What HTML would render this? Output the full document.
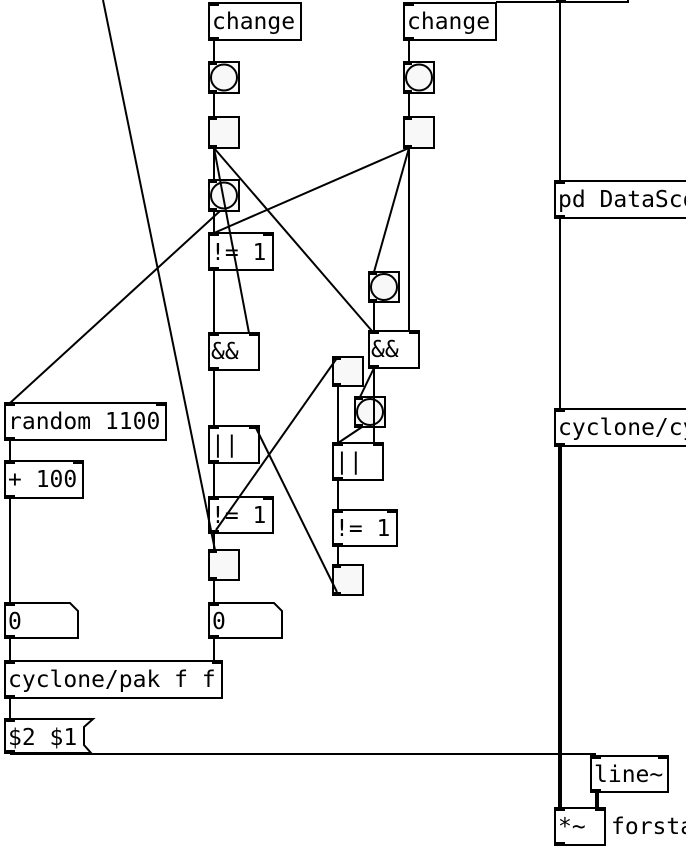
<!DOCTYPE html>
<html><head><style>
body{margin:0;background:#fff;width:686px;height:848px;overflow:hidden}
text{font-family:"DejaVu Sans Mono","Liberation Mono",monospace;font-size:23px;fill:#000}
</style></head><body>
<svg width="686" height="848" xmlns="http://www.w3.org/2000/svg">
<g stroke="#000" stroke-width="4">
<line x1="560" y1="446" x2="560" y2="808"/>
<line x1="597" y1="792" x2="597" y2="808"/>
</g>
<g stroke="#000" stroke-width="2" fill="#fff">
<rect x="209" y="3" width="92" height="37"/>
<rect x="404" y="3" width="92" height="37"/>
<rect x="209" y="233" width="64" height="37"/>
<rect x="209" y="333" width="50" height="37"/>
<rect x="369" y="331" width="50" height="37"/>
<rect x="209" y="426" width="50" height="37"/>
<rect x="333" y="443" width="50" height="37"/>
<rect x="209" y="497" width="64" height="36"/>
<rect x="333" y="510" width="64" height="36"/>
<rect x="5" y="403" width="161" height="37"/>
<rect x="5" y="461" width="78" height="37"/>
<rect x="5" y="661" width="217" height="37"/>
<rect x="555" y="181" width="140" height="37"/>
<rect x="555" y="409" width="140" height="37"/>
<rect x="591" y="756" width="77" height="36"/>
<rect x="555" y="808" width="50" height="37"/>
<path d="M5 603H70L78 611V638H5Z"/>
<path d="M209 603H274L282 611V638H209Z"/>
<path d="M5 719H93L84 727V745L91 753H5Z"/>
</g>
<g stroke="#000" stroke-width="2" fill="#f8f8f8">
<rect x="209" y="62" width="30" height="31"/>
<rect x="404" y="62" width="30" height="31"/>
<rect x="209" y="117" width="30" height="31"/>
<rect x="404" y="117" width="30" height="31"/>
<rect x="209" y="180" width="30" height="31"/>
<rect x="369" y="272" width="30" height="30"/>
<rect x="333" y="357" width="30" height="29"/>
<rect x="355" y="397" width="30" height="30"/>
<rect x="209" y="550" width="30" height="30"/>
<rect x="333" y="565" width="30" height="30"/>
<circle cx="224" cy="77.5" r="13"/>
<circle cx="419" cy="77.5" r="13"/>
<circle cx="224" cy="195.5" r="13"/>
<circle cx="384" cy="287" r="13"/>
<circle cx="370" cy="412" r="13"/>
</g>
<g stroke="#000" stroke-width="2" fill="none">
<line x1="103" y1="0" x2="215" y2="550"/>
<line x1="214" y1="40" x2="214" y2="62"/>
<line x1="214" y1="93" x2="214" y2="117"/>
<line x1="214" y1="148" x2="214" y2="180"/>
<line x1="214" y1="148" x2="249" y2="333"/>
<line x1="214" y1="148" x2="372" y2="331"/>
<line x1="409" y1="40" x2="409" y2="62"/>
<line x1="409" y1="93" x2="409" y2="117"/>
<line x1="409" y1="148" x2="214" y2="233"/>
<line x1="409" y1="148" x2="374" y2="272"/>
<line x1="409" y1="148" x2="409" y2="331"/>
<line x1="220" y1="211" x2="10" y2="403"/>
<line x1="214" y1="211" x2="214" y2="233"/>
<line x1="214" y1="270" x2="214" y2="333"/>
<line x1="214" y1="370" x2="214" y2="426"/>
<line x1="214" y1="463" x2="214" y2="497"/>
<line x1="214" y1="533" x2="214" y2="550"/>
<line x1="214" y1="580" x2="214" y2="603"/>
<line x1="214" y1="638" x2="214" y2="661"/>
<line x1="374" y1="302" x2="374" y2="331"/>
<line x1="374" y1="368" x2="360" y2="397"/>
<line x1="374" y1="368" x2="374" y2="443"/>
<line x1="338" y1="386" x2="338" y2="443"/>
<line x1="362" y1="427" x2="338" y2="443"/>
<line x1="216" y1="530" x2="337" y2="358"/>
<line x1="255" y1="426" x2="337" y2="592"/>
<line x1="338" y1="480" x2="338" y2="510"/>
<line x1="338" y1="546" x2="338" y2="565"/>
<line x1="10" y1="440" x2="10" y2="461"/>
<line x1="10" y1="498" x2="10" y2="603"/>
<line x1="10" y1="638" x2="10" y2="661"/>
<line x1="10" y1="698" x2="10" y2="719"/>
<line x1="10" y1="754" x2="596" y2="754"/>
<line x1="560" y1="3" x2="560" y2="181"/>
<line x1="560" y1="218" x2="560" y2="409"/>
<line x1="496" y1="2" x2="628" y2="2"/>
<line x1="628" y1="0" x2="628" y2="3"/>
</g>
<g fill="#000">
<rect x="209" y="3" width="10" height="3"/><rect x="209" y="37" width="10" height="3"/>
<rect x="404" y="3" width="10" height="3"/><rect x="404" y="37" width="10" height="3"/>
<rect x="209" y="62" width="8" height="3"/><rect x="209" y="90" width="8" height="3"/>
<rect x="404" y="62" width="8" height="3"/><rect x="404" y="90" width="8" height="3"/>
<rect x="209" y="117" width="8" height="3"/><rect x="209" y="145" width="8" height="3"/>
<rect x="404" y="117" width="8" height="3"/><rect x="404" y="145" width="8" height="3"/>
<rect x="209" y="180" width="8" height="3"/><rect x="209" y="208" width="8" height="3"/>
<rect x="209" y="233" width="10" height="3"/><rect x="263" y="233" width="10" height="3"/><rect x="209" y="267" width="10" height="3"/>
<rect x="369" y="272" width="8" height="3"/><rect x="369" y="299" width="8" height="3"/>
<rect x="209" y="333" width="10" height="3"/><rect x="249" y="333" width="10" height="3"/><rect x="209" y="367" width="10" height="3"/>
<rect x="369" y="331" width="10" height="3"/><rect x="409" y="331" width="10" height="3"/><rect x="369" y="365" width="10" height="3"/>
<rect x="333" y="357" width="8" height="3"/><rect x="333" y="383" width="8" height="3"/>
<rect x="355" y="397" width="8" height="3"/><rect x="355" y="424" width="8" height="3"/>
<rect x="209" y="426" width="10" height="3"/><rect x="249" y="426" width="10" height="3"/><rect x="209" y="460" width="10" height="3"/>
<rect x="333" y="443" width="10" height="3"/><rect x="373" y="443" width="10" height="3"/><rect x="333" y="477" width="10" height="3"/>
<rect x="209" y="497" width="10" height="3"/><rect x="263" y="497" width="10" height="3"/><rect x="209" y="530" width="10" height="3"/>
<rect x="333" y="510" width="10" height="3"/><rect x="387" y="510" width="10" height="3"/><rect x="333" y="543" width="10" height="3"/>
<rect x="209" y="550" width="8" height="3"/><rect x="209" y="577" width="8" height="3"/>
<rect x="333" y="565" width="8" height="3"/><rect x="333" y="592" width="8" height="3"/>
<rect x="5" y="403" width="10" height="3"/><rect x="156" y="403" width="10" height="3"/><rect x="5" y="437" width="10" height="3"/>
<rect x="5" y="461" width="10" height="3"/><rect x="73" y="461" width="10" height="3"/><rect x="5" y="495" width="10" height="3"/>
<rect x="5" y="603" width="10" height="3"/><rect x="5" y="635" width="10" height="3"/>
<rect x="209" y="603" width="10" height="3"/><rect x="209" y="635" width="10" height="3"/>
<rect x="5" y="661" width="10" height="3"/><rect x="212" y="661" width="10" height="3"/><rect x="5" y="695" width="10" height="3"/>
<rect x="5" y="719" width="10" height="3"/><rect x="5" y="750" width="10" height="3"/>
<rect x="555" y="181" width="10" height="3"/><rect x="555" y="215" width="10" height="3"/>
<rect x="555" y="409" width="10" height="3"/><rect x="555" y="443" width="10" height="3"/>
<rect x="591" y="756" width="10" height="3"/><rect x="658" y="756" width="10" height="3"/><rect x="591" y="789" width="10" height="3"/>
<rect x="555" y="808" width="10" height="3"/><rect x="595" y="808" width="10" height="3"/><rect x="555" y="842" width="10" height="3"/>
<rect x="556" y="0" width="10" height="3"/>
</g>
<text x="212" y="29">change</text>
<text x="407" y="29">change</text>
<text x="211" y="260">!= 1</text>
<text x="211" y="359">&amp;&amp;</text>
<text x="371" y="357">&amp;&amp;</text>
<text x="211" y="452">||</text>
<text x="335" y="469">||</text>
<text x="211" y="523">!= 1</text>
<text x="335" y="536">!= 1</text>
<text x="8" y="429">random 1100</text>
<text x="8" y="487">+ 100</text>
<text x="8" y="629">0</text>
<text x="212" y="629">0</text>
<text x="8" y="687">cyclone/pak f f</text>
<text x="8" y="745">$2 $1</text>
<text x="558" y="207">pd DataScope</text>
<text x="558" y="435">cyclone/cycle</text>
<text x="594" y="782">line~</text>
<text x="558" y="834">*~</text>
<text x="611" y="834">forsta</text>
</svg>
</body></html>
